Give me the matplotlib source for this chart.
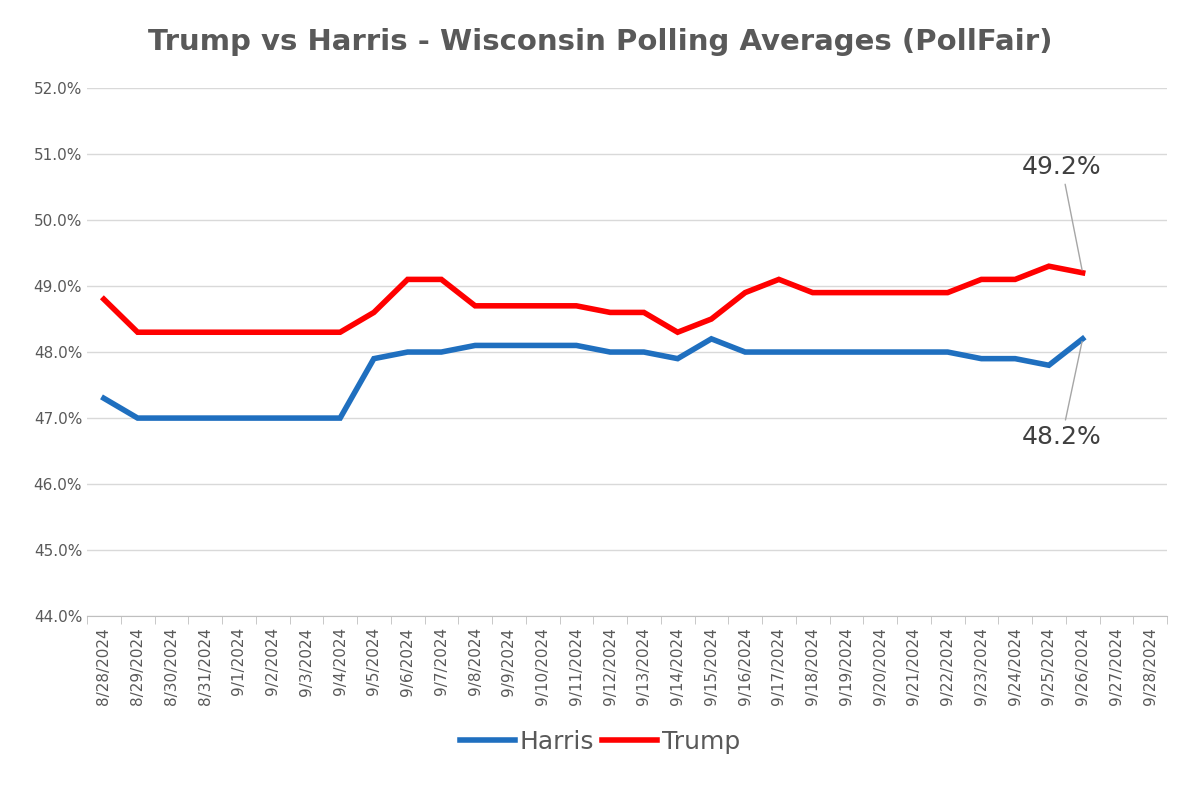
import matplotlib.pyplot as plt
import numpy as np

dates = ["8/28/2024", "8/29/2024", "8/30/2024", "8/31/2024"] + \
    ["9/%d/2024" % d for d in range(1, 29)]

harris = [47.3, 47.0, 47.0, 47.0, 47.0, 47.0, 47.0, 47.0, 47.9, 48.0,
          48.0, 48.1, 48.1, 48.1, 48.1, 48.0, 48.0, 47.9, 48.2, 48.0,
          48.0, 48.0, 48.0, 48.0, 48.0, 48.0, 47.9, 47.9, 47.8, 48.2]
trump = [48.8, 48.3, 48.3, 48.3, 48.3, 48.3, 48.3, 48.3, 48.6, 49.1,
         49.1, 48.7, 48.7, 48.7, 48.7, 48.6, 48.6, 48.3, 48.5, 48.9,
         49.1, 48.9, 48.9, 48.9, 48.9, 48.9, 49.1, 49.1, 49.3, 49.2]

fig = plt.figure(figsize=(12, 7.92), dpi=100)
ax = fig.add_axes([0.0725, 0.222, 0.9, 0.667])

x = np.arange(len(harris))
ax.plot(x, harris, color="#1f6fbf", lw=4, label="Harris", solid_joinstyle="miter")
ax.plot(x, trump, color="#ff0000", lw=4, label="Trump", solid_joinstyle="miter")

ax.set_xlim(-0.5, len(dates) - 0.5)
ax.set_ylim(44, 52)
ax.set_yticks(np.arange(44, 52.1, 1))
ax.set_yticklabels(["%.1f%%" % v for v in np.arange(44, 52.1, 1)])
ax.set_xticks(np.arange(len(dates)))
ax.set_xticklabels(dates, rotation=90)
ax.set_xticks(np.arange(-0.5, len(dates), 1), minor=True)
ax.tick_params(axis="x", which="major", length=0, pad=8, labelsize=11, colors="#595959")
ax.tick_params(axis="x", which="minor", length=6, color="#bfbfbf")
ax.tick_params(axis="y", length=0, labelsize=11, colors="#595959")
ax.grid(axis="y", color="#d9d9d9", lw=1)
ax.set_axisbelow(True)
for s in ["top", "right", "left"]:
    ax.spines[s].set_visible(False)
ax.spines["bottom"].set_color("#bfbfbf")

ax.annotate("%.1f%%" % trump[-1], xy=(x[-1], trump[-1]), xytext=(x[-1] - 1.8, 50.7),
            fontsize=18, color="#404040",
            arrowprops=dict(arrowstyle="-", color="#a6a6a6", lw=1))
ax.annotate("%.1f%%" % harris[-1], xy=(x[-1], harris[-1]), xytext=(x[-1] - 1.8, 46.6),
            fontsize=18, color="#404040",
            arrowprops=dict(arrowstyle="-", color="#a6a6a6", lw=1))

fig.suptitle("Trump vs Harris - Wisconsin Polling Averages (PollFair)", y=0.965,
             fontsize=21, fontweight="bold", color="#595959")
fig.legend(loc="lower center", ncol=2, bbox_to_anchor=(0.5, 0.02), frameon=False,
           fontsize=18, handlelength=2.2, columnspacing=0.3, handletextpad=0.2,
           labelcolor="#595959")

fig.savefig("out.png")
